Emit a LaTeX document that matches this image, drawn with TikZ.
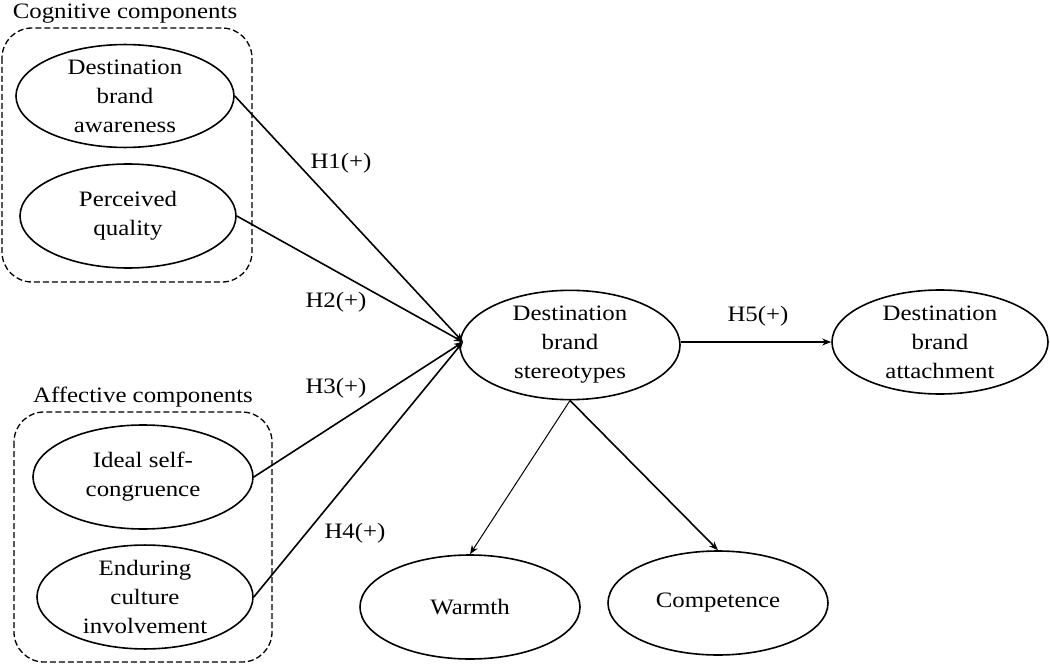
\documentclass[tikz,border=0pt]{standalone}
\usepackage{fontspec}
\setmainfont{Liberation Serif}[FakeStretch=1.13]
\usetikzlibrary{shapes.geometric,arrows.meta}
\begin{document}
\begin{tikzpicture}[x=1pt,y=-1pt,
  every node/.style={font=\fontsize{22}{29}\selectfont},
  ell/.style={draw,line width=1.6pt,ellipse,minimum width=#1,minimum height=104pt,inner sep=0pt,align=center},
  grp/.style={draw,dash pattern=on 6pt off 3pt,line width=1.3pt,rounded corners=30pt},
  link/.style={line width=1.6pt,-{Stealth[length=9pt,width=7pt]}},
  thin link/.style={line width=1pt,-{Stealth[length=9pt,width=7pt]}},
  lbl/.style={inner sep=0pt}]
\useasboundingbox (0,0) rectangle (1050,666);
\draw[grp] (2,28) rectangle (252,282);
\draw[grp] (14,412) rectangle (272,662);
\node[lbl] (cog) at (125,14) {Cognitive components};
\node[lbl] (aff) at (143,397) {Affective components};
\node[ell=218pt,minimum height=98pt] (dba) at (125,96) {Destination\\brand\\awareness};
\node[ell=216pt] (pq) at (128,216) {Perceived\\quality};
\node[ell=220pt] (isc) at (143,477) {Ideal self-\\congruence};
\node[ell=216pt,minimum height=100pt] (eci) at (145,597) {Enduring\\culture\\involvement};
\node[ell=220pt,minimum height=106pt] (dbs) at (570,345) {Destination\\brand\\stereotypes};
\node[ell=216pt] (dbt) at (940,342) {Destination\\brand\\attachment};
\node[ell=220pt] (w) at (470,607) {Warmth};
\node[ell=220pt] (c) at (718,603) {Competence};
\coordinate (tip) at (463,342);
\draw[link] (dba.east) -- (tip);
\draw[link] (pq.east) -- (tip);
\draw[link] (isc.east) -- (tip);
\draw[link] (eci.east) -- (tip);
\draw[link] (dbs.east |- dbt.west) -- (dbt.west);
\draw[thin link] (dbs.south) -- (w.north);
\draw[link] (dbs.south) -- (c.north);
\node[lbl] (h1) at (341,163) {H1(+)};
\node[lbl] (h2) at (336,302) {H2(+)};
\node[lbl] (h3) at (336,388) {H3(+)};
\node[lbl] (h4) at (355,533) {H4(+)};
\node[lbl] (h5) at (758,316) {H5(+)};
\end{tikzpicture}
\end{document}
